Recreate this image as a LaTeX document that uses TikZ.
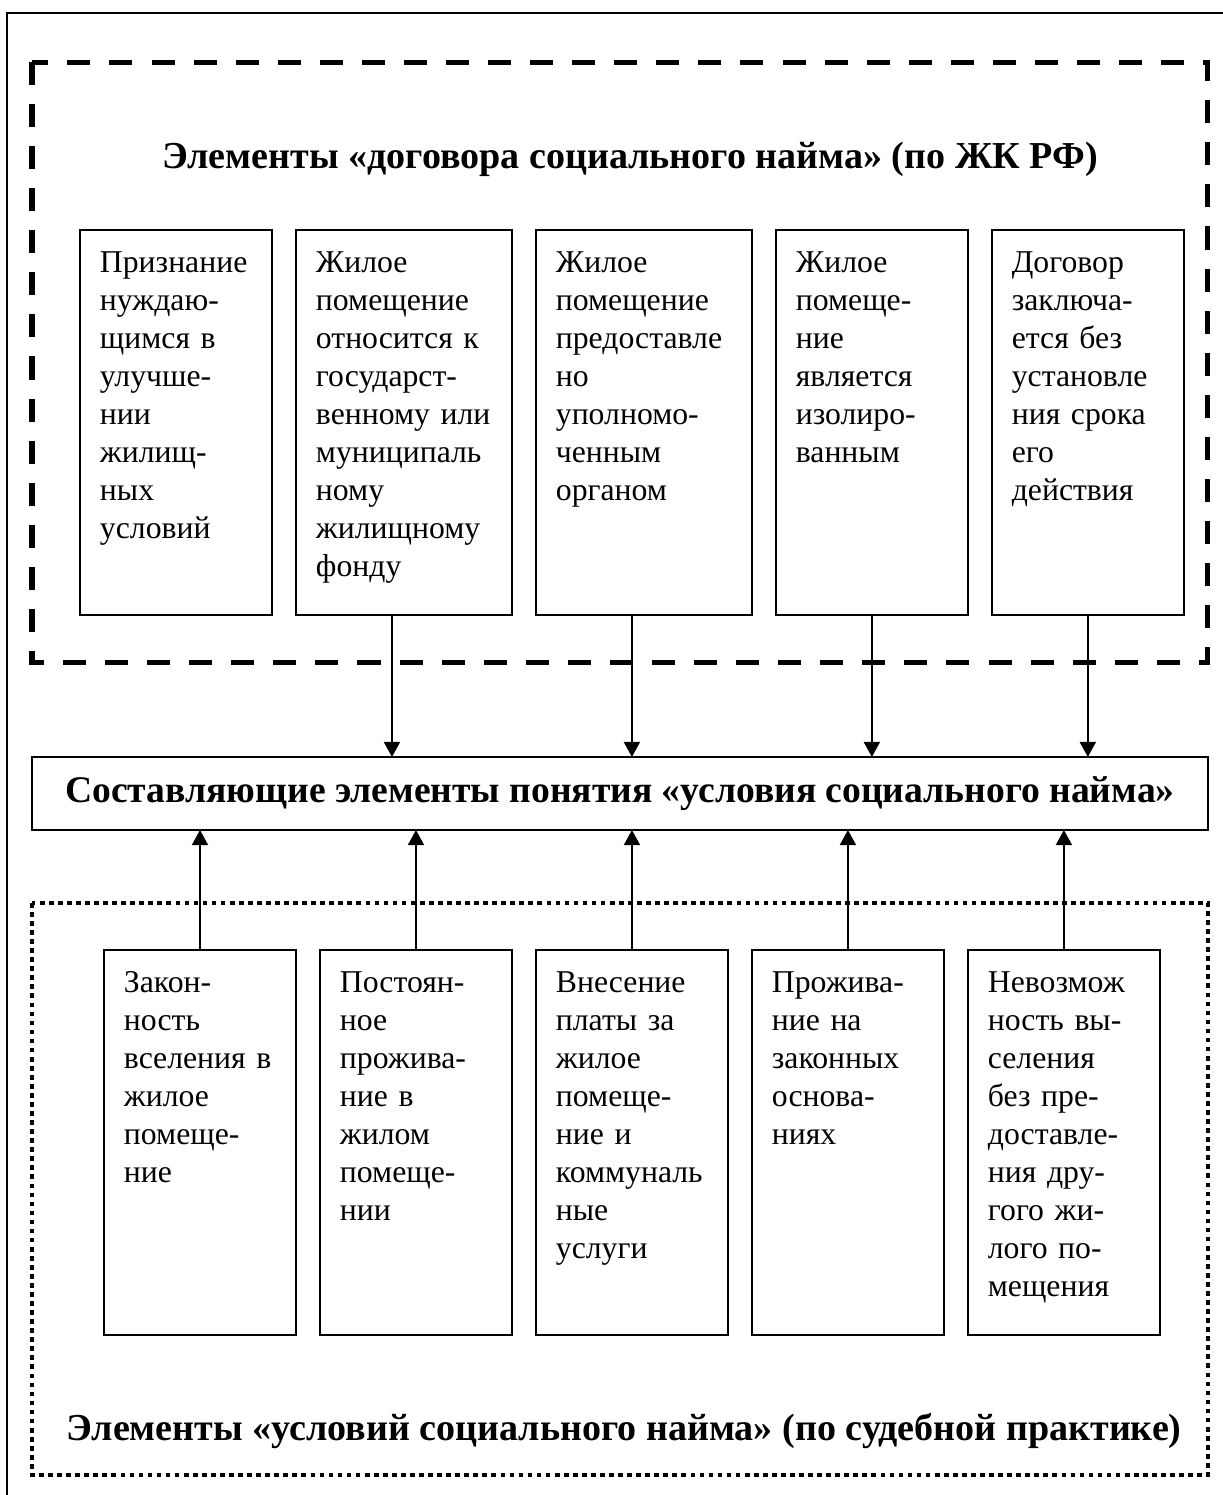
\documentclass[tikz,border=0pt]{standalone}
\usepackage{fontspec}
\setmainfont{Liberation Serif}
\usetikzlibrary{positioning,arrows.meta}

\begin{document}
\begin{tikzpicture}[x=0.4255pt,y=-0.4255pt,
  cell/.style={draw,line width=0.85pt,anchor=north west,align=left,outer sep=0pt,
    inner xsep=8.5pt,inner ysep=0pt,text height=17.9pt,text depth=145.9pt,
    font=\fontsize{13.5pt}{16.2pt}\selectfont},
  narrow/.style={cell,text width=64.7pt},
  wide/.style={cell,text width=74.9pt},
  link/.style={line width=0.85pt,-{Triangle[width=6.8pt,length=6.4pt]}},
  heading/.style={anchor=base,font=\fontsize{16.2pt}{19pt}\selectfont\bfseries},
  node distance=10.2pt]
\useasboundingbox (0,0) rectangle (1222,1495);
% outer frame, cut by the page
\draw[line width=0.85pt] (7,13) rectangle (1260,1530);
% dashed and dotted groups
\draw[line width=2.13pt,dash pattern=on 9.8pt off 8.1pt] (32,62) rectangle (1207,662);
\draw[line width=2pt,dash pattern=on 2pt off 1.85pt] (32,903) rectangle (1208,1475);

\node[heading] (topttl) at (630,168) {Элементы «договора социального найма» (по ЖК РФ)};
\node[heading] (botttl) at (624,1440) {Элементы «условий социального найма» (по судебной практике)};

% top row
\node[narrow] (d1) at (80,230) {Признание\\нуждаю-\\щимся~в\\улучше-\\нии\\жилищ-\\ных\\условий};
\node[wide,right=of d1] (d2) {Жилое\\помещение\\относится~к\\государст-\\венному~или\\муниципаль\\ному\\жилищному\\фонду};
\node[wide,right=of d2] (d3) {Жилое\\помещение\\предоставле\\но\\уполномо-\\ченным\\органом};
\node[narrow,right=of d3] (d4) {Жилое\\помеще-\\ние\\является\\изолиро-\\ванным};
\node[narrow,right=of d4] (d5) {Договор\\заключа-\\ется~без\\установле\\ния~срока\\его\\действия};

\node[draw,line width=0.85pt,minimum width=500.4pt,minimum height=31.1pt,inner sep=0pt,outer sep=0pt,
  font=\fontsize{16pt}{19pt}\selectfont\bfseries] (mid) at (620,793.5)
  {Составляющие элементы понятия «условия социального найма»};

% bottom row
\node[narrow] (s1) at (104,950) {Закон-\\ность\\вселения~в\\жилое\\помеще-\\ние};
\node[narrow,right=of s1] (s2) {Постоян-\\ное\\прожива-\\ние~в\\жилом\\помеще-\\нии};
\node[narrow,right=of s2] (s3) {Внесение\\платы~за\\жилое\\помеще-\\ние~и\\коммуналь\\ные\\услуги};
\node[narrow,right=of s3] (s4) {Прожива-\\ние~на\\законных\\основа-\\ниях};
\node[narrow,right=of s4] (s5) {Невозмож\\ность~вы-\\селения\\без~пре-\\доставле-\\ния~дру-\\гого~жи-\\лого~по-\\мещения};

% arrows
\draw[link] (d2.south) ++(-12,0) coordinate (a2) -- (a2 |- mid.north);
\draw[link] (d3.south) ++(-12,0) coordinate (a3) -- (a3 |- mid.north);
\draw[link] (d4.south) -- (d4.south |- mid.north);
\draw[link] (d5.south) -- (d5.south |- mid.north);
\foreach \i in {1,...,5}
  \draw[link] (s\i.north) -- (s\i.north |- mid.south);
\end{tikzpicture}
\end{document}
